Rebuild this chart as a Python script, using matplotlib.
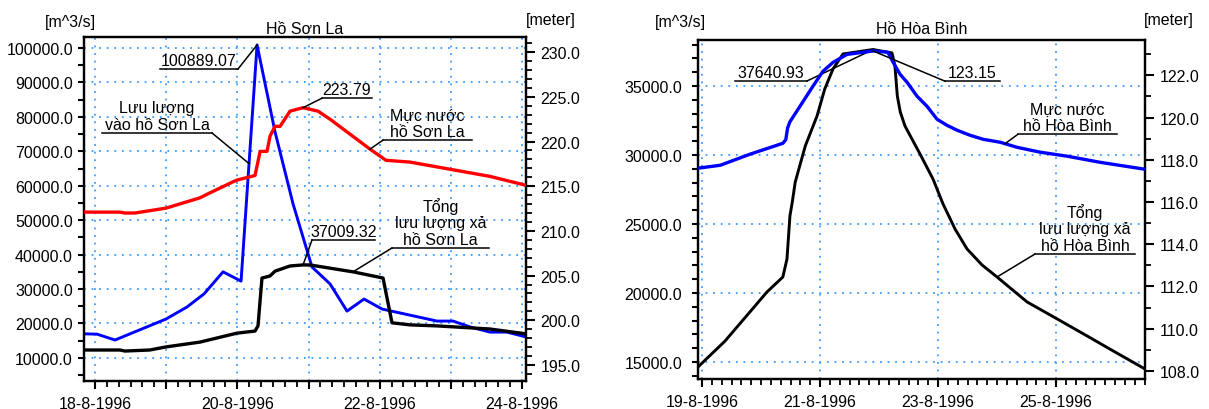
import numpy as np
import matplotlib
matplotlib.use("Agg")
import matplotlib.pyplot as plt
from matplotlib.ticker import MultipleLocator, FuncFormatter, FormatStrFormatter

plt.rcParams['font.family'] = ['Liberation Sans', 'DejaVu Sans']
plt.rcParams['font.size'] = 11.5

# ---------------- Ho Son La (days since 18-8-1996) ----------------
sl_in_t = [-0.155, 0.028, 0.281, 0.492, 0.998, 1.293, 1.532, 1.799, 2.052, 2.277,
           2.530, 2.783, 3.049, 3.302, 3.541, 3.780, 4.033, 4.806, 5.031, 5.270,
           5.550, 5.789, 6.056]
sl_in_q = [17000, 16900, 15200, 17000, 21300, 24800, 28600, 35000, 32300, 100889.07,
           75600, 54700, 36400, 31500, 23600, 27100, 24200, 20700, 20700, 19000,
           17500, 17500, 16100]

sl_lv_t = [-0.155, 0.351, 0.42, 0.56, 0.998, 1.475, 1.574, 1.94, 2.0, 2.248, 2.32,
           2.417, 2.459, 2.529, 2.60, 2.740, 2.923, 3.133, 3.302, 3.864, 4.089,
           4.426, 4.988, 5.55, 6.056]
sl_lv_h = [212.1, 212.1, 212.0, 212.0, 212.55, 213.7, 214.1, 215.5, 215.7, 216.2, 218.9,
           218.9, 220.6, 221.7, 221.7, 223.4, 223.79, 223.4, 222.5, 219.15, 217.9,
           217.7, 216.9, 216.1, 215.1]

sl_out_t = [-0.155, 0.351, 0.42, 0.77, 0.998, 1.475, 1.995, 2.248, 2.290, 2.346,
            2.459, 2.529, 2.740, 2.923, 3.021, 3.625, 4.047, 4.173, 4.426, 4.806,
            5.550, 6.056]
sl_out_q = [12300, 12300, 12000, 12300, 13200, 14600, 17200, 17800, 19300, 33200,
            33800, 35200, 36700, 37009.32, 37000, 35000, 33200, 20200, 19600, 19300,
            18400, 17000]

# ---------------- Ho Hoa Binh (days since 19-8-1996) ----------------
hb_lv_t = [-0.068, 0.31, 0.81, 1.37, 1.42, 1.45, 1.49, 1.66, 1.88, 2.05, 2.22, 2.46,
           2.90, 3.15, 3.24, 3.356, 3.475, 3.644, 3.814, 3.983, 4.153, 4.322, 4.542,
           4.763, 5.051, 5.339, 5.729, 6.186, 6.746, 7.508]
hb_lv_h = [117.60, 117.74, 118.26, 118.78, 118.95, 119.5, 119.8, 120.53, 121.48, 122.19,
           122.61, 122.99, 123.15, 123.09, 122.61, 122.05, 121.67, 121.01, 120.53,
           119.92, 119.63, 119.40, 119.16, 118.97, 118.83, 118.59, 118.36, 118.17,
           117.88, 117.55]

hb_out_t = [-0.068, 0.39, 0.81, 1.10, 1.37, 1.44, 1.49, 1.53, 1.58, 1.75, 1.95, 2.08,
            2.22, 2.39, 2.90, 3.22, 3.27, 3.31, 3.36, 3.44, 3.695, 3.915, 4.085, 4.288,
            4.492, 4.746, 5.00, 5.51, 6.02, 6.53, 6.97, 7.51]
hb_out_q = [14640, 16520, 18620, 20070, 21160, 22460, 25580, 26590, 28040, 30650,
            32830, 34780, 36230, 37320, 37640.93, 37390, 36450, 34280, 33120, 32100,
            30070, 28260, 26450, 24640, 23190, 22030, 21160, 19350, 18120, 16880,
            15800, 14490]

GRID = '#3d9bff'
LW = 2.1
FS = 11.5


def day_fmt(x, pos):
    return "%d-8-1996" % int(round(x))


def style_axes(ax, ax2):
    for a in (ax, ax2):
        for s in a.spines.values():
            s.set_linewidth(1.6)
    ax.grid(True, which='major', color=GRID, linestyle=(0, (1, 3.2)), linewidth=1.3)
    ax.tick_params(axis='x', which='major', length=6, width=1.5, pad=5)
    ax.tick_params(axis='x', which='minor', length=4, width=1.3)
    ax.tick_params(axis='y', which='both', length=4.5, width=1.5)
    ax2.tick_params(axis='y', which='major', length=6.5, width=1.5, pad=4)
    ax2.tick_params(axis='y', which='minor', length=4.5, width=1.3)
    ax.yaxis.set_major_formatter(FormatStrFormatter('%.1f'))
    ax2.yaxis.set_major_formatter(FormatStrFormatter('%.1f'))
    ax.xaxis.set_minor_locator(MultipleLocator(1 / 6))


def callout(ax, xy, x0, x1, y, text, side='left', dy=1):
    # leader line from the point to one end of the underline, then the underline
    xs = x0 if side == 'left' else x1
    ax.plot([xy[0], xs], [xy[1], y], color='black', lw=1.1, clip_on=False, zorder=6)
    ax.plot([x0, x1], [y, y], color='black', lw=1.1, clip_on=False, zorder=6)
    ax.annotate(text, xy=((x0 + x1) / 2, y), xytext=(0, dy), textcoords='offset points',
                ha='center', va='bottom', linespacing=1.1, zorder=7)


fig = plt.figure(figsize=(12.09, 4.10), dpi=100)

# ================= Son La =================
ax1 = fig.add_axes([84 / 1209, 1 - 382 / 410, 442 / 1209, 344 / 410])
ax2 = ax1.twinx()
x_in = 18 + np.array(sl_in_t)
x_lv = 18 + np.array(sl_lv_t)
x_out = 18 + np.array(sl_out_t)
ax1.plot(x_in, sl_in_q, color='#0000ff', lw=LW, zorder=3)
ax1.plot(x_out, sl_out_q, color='black', lw=LW + 0.3, zorder=3)
ax2.plot(x_lv, sl_lv_h, color='#ff0000', lw=LW + 0.3, zorder=3)

ax1.set_xlim(17.845, 24.056)
ax1.set_ylim(3300, 103200)
ax2.set_ylim(193.2, 231.7)
ax1.xaxis.set_major_locator(MultipleLocator(1))
ax1.xaxis.set_major_formatter(FuncFormatter(
    lambda x, p: day_fmt(x, p) if int(round(x)) % 2 == 0 else ''))
ax1.yaxis.set_major_locator(MultipleLocator(10000))
ax1.yaxis.set_minor_locator(MultipleLocator(5000))
ax2.yaxis.set_major_locator(MultipleLocator(5))
ax2.yaxis.set_minor_locator(MultipleLocator(1))
style_axes(ax1, ax2)
ax1.set_title("Hồ Sơn La", fontsize=FS, pad=3)

i = int(np.argmax(sl_in_q))
callout(ax1, (x_in[i], sl_in_q[i]), 18.913, 20.009, 93900, "%.2f" % sl_in_q[i], side='right')
j = int(np.argmax(sl_out_q))
callout(ax1, (x_out[j], sl_out_q[j]), 21.049, 21.934, 44250, "%.2f" % sl_out_q[j])
k = int(np.argmax(sl_lv_h))
callout(ax2, (x_lv[k], sl_lv_h[k]), 21.19, 21.89, 224.85, "%.2f" % sl_lv_h[k])
callout(ax1, (20.164, np.interp(20.164, x_in, sl_in_q)), 18.098, 19.644, 75320,
        "Lưu lượng\nvào hồ Sơn La", side='right')
callout(ax2, (21.864, np.interp(21.864, x_lv, sl_lv_h)), 22.047, 23.297, 220.16,
        "Mực nước\nhồ Sơn La")
callout(ax1, (21.625, np.interp(21.625, x_out, sl_out_q)), 22.173, 23.536, 41930,
        "Tổng\nlưu lượng xả\nhồ Sơn La")

fig.text(70 / 1209, 1 - 22 / 410, "[m^3/s]", ha='center', va='center')
fig.text(551 / 1209, 1 - 21 / 410, "[meter]", ha='center', va='center')

# ================= Hoa Binh =================
ax3 = fig.add_axes([698 / 1209, 1 - 380 / 410, 447 / 1209, 339 / 410])
ax4 = ax3.twinx()
x_hlv = 19 + np.array(hb_lv_t)
x_hout = 19 + np.array(hb_out_t)
ax3.plot(x_hout, hb_out_q, color='black', lw=LW, zorder=3)
ax4.plot(x_hlv, hb_lv_h, color='#0000ff', lw=LW + 0.3, zorder=3)

ax3.set_xlim(18.932, 26.508)
ax3.set_ylim(13770, 38330)
ax4.set_ylim(107.62, 123.67)
ax3.xaxis.set_major_locator(MultipleLocator(2, offset=1))
ax3.xaxis.set_major_formatter(FuncFormatter(day_fmt))
ax3.yaxis.set_major_locator(MultipleLocator(5000))
ax3.yaxis.set_minor_locator(MultipleLocator(1000))
ax4.yaxis.set_major_locator(MultipleLocator(2))
ax4.yaxis.set_minor_locator(MultipleLocator(1))
style_axes(ax3, ax4)
ax3.tick_params(axis='y', which='both', pad=7)
ax3.set_title("Hồ Hòa Bình", fontsize=FS, pad=5)

j = int(np.argmax(hb_out_q))
callout(ax3, (x_hout[j], hb_out_q[j]), 19.559, 20.780, 35362, "%.2f" % hb_out_q[j], side='right')
k = int(np.argmax(hb_lv_h))
callout(ax4, (x_hlv[k], hb_lv_h[k]), 23.119, 24.051, 121.72, "%.2f" % hb_lv_h[k])
callout(ax4, (24.136, np.interp(24.136, x_hlv, hb_lv_h)), 24.356, 26.034, 119.21,
        "Mực nước\nhồ Hòa Bình")
callout(ax3, (24.0, np.interp(24.0, x_hout, hb_out_q)), 24.644, 26.339, 22826,
        "Tổng\nlưu lượng xả\nhồ Hòa Bình")

fig.text(680 / 1209, 1 - 22 / 410, "[m^3/s]", ha='center', va='center')
fig.text(1169 / 1209, 1 - 21 / 410, "[meter]", ha='center', va='center')

fig.savefig("out.png", dpi=100)
